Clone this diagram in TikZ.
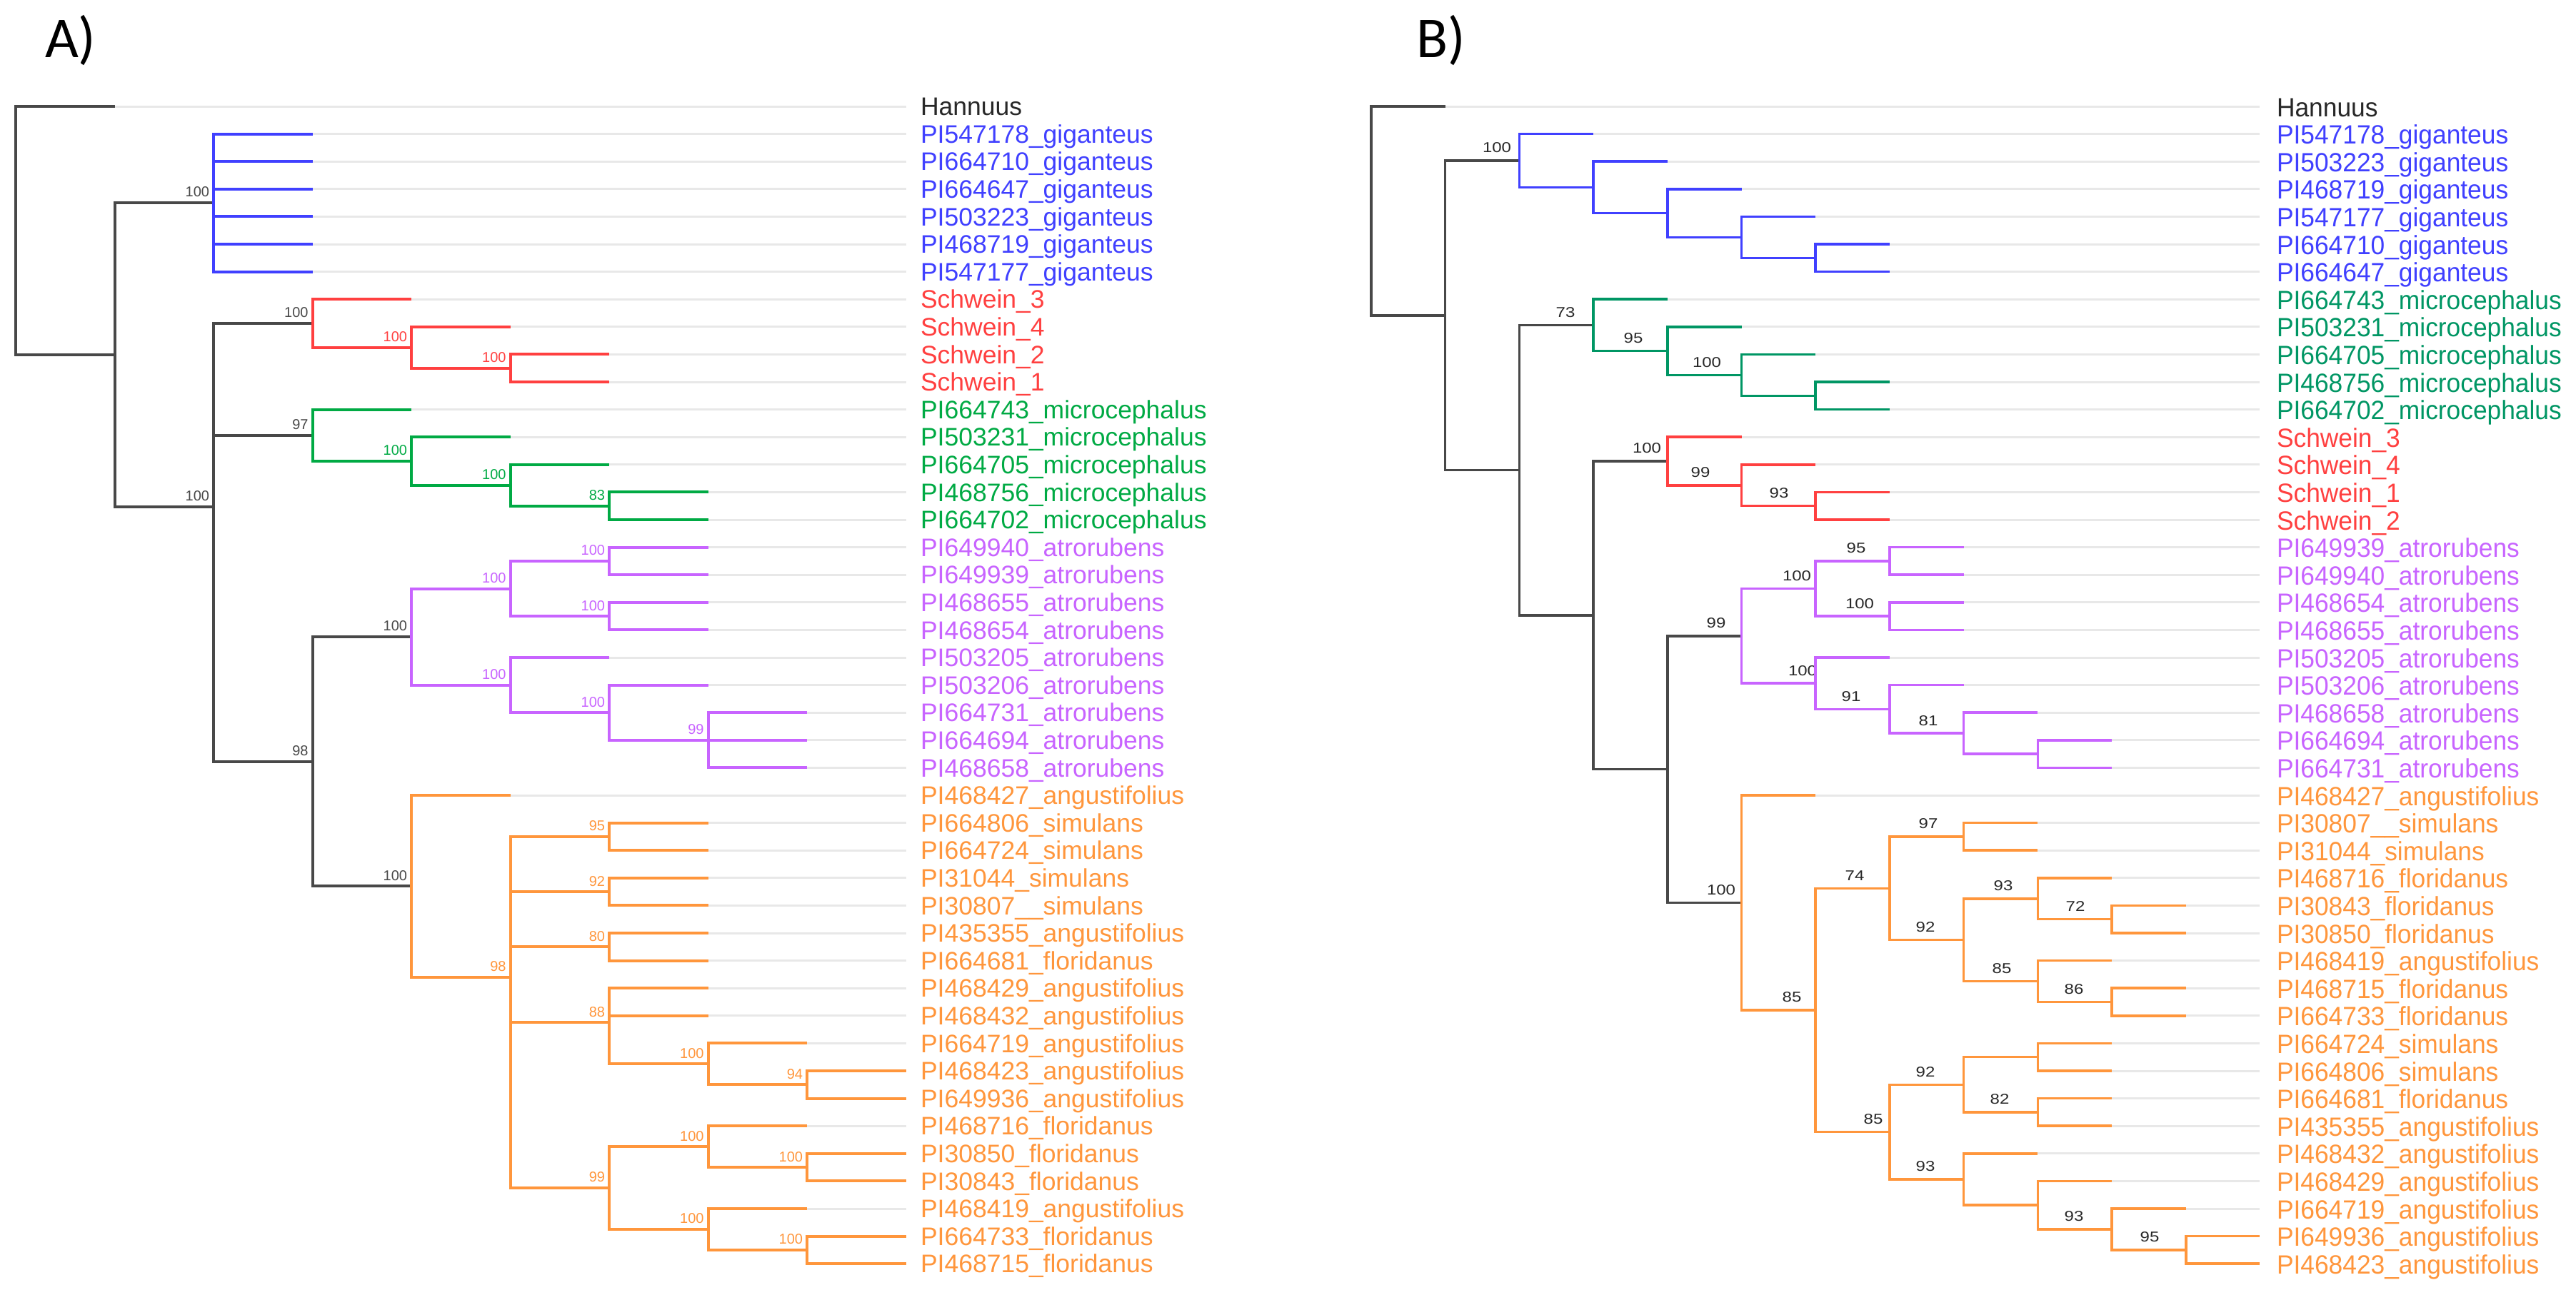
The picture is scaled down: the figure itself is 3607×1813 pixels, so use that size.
\documentclass[tikz,border=0pt]{standalone}
\usepackage{fontspec}
\setmainfont{Liberation Sans}
\newfontfamily\carl{Carlito}
\newfontfamily\bleaffont[FakeStretch=0.955]{Liberation Sans}
\newfontfamily\bnumfont[FakeStretch=1.2]{Liberation Sans}
\usetikzlibrary{calc}
\definecolor{cblk}{RGB}{72,72,72}
\definecolor{cblue}{RGB}{64,64,255}
\definecolor{cred}{RGB}{255,64,64}
\definecolor{cgrnA}{RGB}{0,170,68}
\definecolor{cgrnB}{RGB}{0,150,100}
\definecolor{cpur}{RGB}{200,100,255}
\definecolor{corg}{RGB}{255,150,60}
\definecolor{cgrey}{RGB}{232,232,232}
\definecolor{ctxt}{RGB}{40,40,40}
\tikzset{
  brA/.style={line width=0.8pt, line join=miter},
  brB/.style={line width=0.7pt, line join=miter},
  greyln/.style={draw=cgrey, line width=0.6pt},
  leaf/.style={anchor=base west, inner sep=0pt, font=\fontsize{7.1}{8}\selectfont},
  leafb/.style={anchor=base west, inner sep=0pt, font=\bleaffont\fontsize{7.4}{8.4}\selectfont},
  bsA/.style={anchor=east, inner sep=0pt, font=\fontsize{4}{5}\selectfont},
  bsB/.style={anchor=center, inner sep=0pt, font=\bnumfont\fontsize{4}{5}\selectfont, text=ctxt},
  panel/.style={anchor=base west, inner sep=0pt, font=\carl\fontsize{16.2}{18}\selectfont, text=black}
}
% tree A: level x = 22+138.5*k, row y = 149+38.6*i
\newcommand\intA[7]{%
  \coordinate (#1) at ({22+138.5*(#2)},{149+38.6*(#3)});
  \draw[brA,#5] (#4) |- (#1);
  \node[bsA,text=#7] (#1l) at ($(#1)+(-5,-15)$) {#6};}
\newcommand\intAn[5]{%
  \coordinate (#1) at ({22+138.5*(#2)},{149+38.6*(#3)});
  \draw[brA,#5] (#4) |- (#1);}
\newcommand\leafA[7]{%
  \coordinate (#1) at ({22+138.5*(#2)},{149+38.6*(#3)});
  \draw[greyln] (#1) -- (#1 -| aend);
  \draw[brA,#5] (#4) |- (#1);
  \node[leaf,text=#6] (#1t) at ({1288},{149+38.6*(#3)+12.7}) {#7};}
% tree B: level x = 1920+103.7*k
\newcommand\intB[7]{%
  \coordinate (#1) at ({1920+103.7*(#2)},{149+38.6*(#3)});
  \draw[brB,#5] (#4) |- (#1);
  \node[bsB] (#1l) at ({#7},{149+38.6*(#3)-18}) {#6};}
\newcommand\intBn[5]{%
  \coordinate (#1) at ({1920+103.7*(#2)},{149+38.6*(#3)});
  \draw[brB,#5] (#4) |- (#1);}
\newcommand\leafB[7]{%
  \coordinate (#1) at ({1920+103.7*(#2)},{149+38.6*(#3)});
  \draw[greyln] (#1) -- (#1 -| bend);
  \draw[brB,#5] (#4) |- (#1);
  \node[leafb,text=#6] (#1t) at ({3187},{149+38.6*(#3)+14}) {#7};}
\begin{document}
\begin{tikzpicture}[x=0.2pt,y=-0.2pt]
\fill[white] (0,0) rectangle (3607,1813);
\useasboundingbox (0,0) rectangle (3607,1813);
\node[panel] (pA) at (62,80) {A)};
\node[panel] (pB) at (1982,80) {B)};
\coordinate (aend) at (1268.5,0);
\coordinate (bend) at (3164.4,0);
% ================= TREE A =================
\coordinate (ar) at (22,{149+38.6*4.5075});
\leafA{a0}{1}{0}{ar}{cblk}{ctxt}{Hannuus}
\intAn{aN1}{1}{9.015}{ar}{cblk}
\intA{aG}{2}{3.5}{aN1}{cblk}{100}{cblk}
\leafA{a1}{3}{1}{aG}{cblue}{cblue}{PI547178\_giganteus}
\leafA{a2}{3}{2}{aG}{cblue}{cblue}{PI664710\_giganteus}
\leafA{a3}{3}{3}{aG}{cblue}{cblue}{PI664647\_giganteus}
\leafA{a4}{3}{4}{aG}{cblue}{cblue}{PI503223\_giganteus}
\leafA{a5}{3}{5}{aG}{cblue}{cblue}{PI468719\_giganteus}
\leafA{a6}{3}{6}{aG}{cblue}{cblue}{PI547177\_giganteus}
\intA{aN2}{2}{14.529}{aN1}{cblk}{100}{cblk}
\intA{aR}{3}{7.875}{aN2}{cblk}{100}{cblk}
\leafA{a7}{4}{7}{aR}{cred}{cred}{Schwein\_3}
\intA{aR2}{4}{8.75}{aR}{cred}{100}{cred}
\leafA{a8}{5}{8}{aR2}{cred}{cred}{Schwein\_4}
\intA{aR3}{5}{9.5}{aR2}{cred}{100}{cred}
\leafA{a9}{6}{9}{aR3}{cred}{cred}{Schwein\_2}
\leafA{a10}{6}{10}{aR3}{cred}{cred}{Schwein\_1}
\intA{aM}{3}{11.9375}{aN2}{cblk}{97}{cblk}
\leafA{a11}{4}{11}{aM}{cgrnA}{cgrnA}{PI664743\_microcephalus}
\intA{aM2}{4}{12.875}{aM}{cgrnA}{100}{cgrnA}
\leafA{a12}{5}{12}{aM2}{cgrnA}{cgrnA}{PI503231\_microcephalus}
\intA{aM3}{5}{13.75}{aM2}{cgrnA}{100}{cgrnA}
\leafA{a13}{6}{13}{aM3}{cgrnA}{cgrnA}{PI664705\_microcephalus}
\intA{aM4}{6}{14.5}{aM3}{cgrnA}{83}{cgrnA}
\leafA{a14}{7}{14}{aM4}{cgrnA}{cgrnA}{PI468756\_microcephalus}
\leafA{a15}{7}{15}{aM4}{cgrnA}{cgrnA}{PI664702\_microcephalus}
\intA{aN3}{3}{23.775}{aN2}{cblk}{98}{cblk}
\intA{aP}{4}{19.25}{aN3}{cblk}{100}{cblk}
\intA{aP1}{5}{17.5}{aP}{cpur}{100}{cpur}
\intA{aP1a}{6}{16.5}{aP1}{cpur}{100}{cpur}
\leafA{a16}{7}{16}{aP1a}{cpur}{cpur}{PI649940\_atrorubens}
\leafA{a17}{7}{17}{aP1a}{cpur}{cpur}{PI649939\_atrorubens}
\intA{aP1b}{6}{18.5}{aP1}{cpur}{100}{cpur}
\leafA{a18}{7}{18}{aP1b}{cpur}{cpur}{PI468655\_atrorubens}
\leafA{a19}{7}{19}{aP1b}{cpur}{cpur}{PI468654\_atrorubens}
\intA{aP2}{5}{21}{aP}{cpur}{100}{cpur}
\leafA{a20}{6}{20}{aP2}{cpur}{cpur}{PI503205\_atrorubens}
\intA{aPy}{6}{22}{aP2}{cpur}{100}{cpur}
\leafA{a21}{7}{21}{aPy}{cpur}{cpur}{PI503206\_atrorubens}
\intA{aPz}{7}{23}{aPy}{cpur}{99}{cpur}
\leafA{a22}{8}{22}{aPz}{cpur}{cpur}{PI664731\_atrorubens}
\leafA{a23}{8}{23}{aPz}{cpur}{cpur}{PI664694\_atrorubens}
\leafA{a24}{8}{24}{aPz}{cpur}{cpur}{PI468658\_atrorubens}
\intA{aO}{4}{28.3}{aN3}{cblk}{100}{cblk}
\leafA{a25}{5}{25}{aO}{corg}{corg}{PI468427\_angustifolius}
\intA{aO1}{5}{31.6}{aO}{corg}{98}{corg}
\intA{aOa}{6}{26.5}{aO1}{corg}{95}{corg}
\leafA{a26}{7}{26}{aOa}{corg}{corg}{PI664806\_simulans}
\leafA{a27}{7}{27}{aOa}{corg}{corg}{PI664724\_simulans}
\intA{aOb}{6}{28.5}{aO1}{corg}{92}{corg}
\leafA{a28}{7}{28}{aOb}{corg}{corg}{PI31044\_simulans}
\leafA{a29}{7}{29}{aOb}{corg}{corg}{PI30807\_\_simulans}
\intA{aOc}{6}{30.5}{aO1}{corg}{80}{corg}
\leafA{a30}{7}{30}{aOc}{corg}{corg}{PI435355\_angustifolius}
\leafA{a31}{7}{31}{aOc}{corg}{corg}{PI664681\_floridanus}
\intA{aOd}{6}{33.25}{aO1}{corg}{88}{corg}
\leafA{a32}{7}{32}{aOd}{corg}{corg}{PI468429\_angustifolius}
\leafA{a33}{7}{33}{aOd}{corg}{corg}{PI468432\_angustifolius}
\intA{aOd1}{7}{34.75}{aOd}{corg}{100}{corg}
\leafA{a34}{8}{34}{aOd1}{corg}{corg}{PI664719\_angustifolius}
\intA{aOd2}{8}{35.5}{aOd1}{corg}{94}{corg}
\leafA{a35}{9}{35}{aOd2}{corg}{corg}{PI468423\_angustifolius}
\leafA{a36}{9}{36}{aOd2}{corg}{corg}{PI649936\_angustifolius}
\intA{aOe}{6}{39.25}{aO1}{corg}{99}{corg}
\intA{aOe1}{7}{37.75}{aOe}{corg}{100}{corg}
\leafA{a37}{8}{37}{aOe1}{corg}{corg}{PI468716\_floridanus}
\intA{aOe2}{8}{38.5}{aOe1}{corg}{100}{corg}
\leafA{a38}{9}{38}{aOe2}{corg}{corg}{PI30850\_floridanus}
\leafA{a39}{9}{39}{aOe2}{corg}{corg}{PI30843\_floridanus}
\intA{aOe3}{7}{40.75}{aOe}{corg}{100}{corg}
\leafA{a40}{8}{40}{aOe3}{corg}{corg}{PI468419\_angustifolius}
\intA{aOe4}{8}{41.5}{aOe3}{corg}{100}{corg}
\leafA{a41}{9}{41}{aOe4}{corg}{corg}{PI664733\_floridanus}
\leafA{a42}{9}{42}{aOe4}{corg}{corg}{PI468715\_floridanus}
% ================= TREE B =================
\coordinate (br) at (1920,{149+38.6*3.7925});
\leafB{b0}{1}{0}{br}{cblk}{ctxt}{Hannuus}
\intBn{bN1}{1}{7.585}{br}{cblk}
\intB{bG}{2}{1.96875}{bN1}{cblk}{100}{2096}
\leafB{b1}{3}{1}{bG}{cblue}{cblue}{PI547178\_giganteus}
\intBn{bg2}{3}{2.9375}{bG}{cblue}
\leafB{b2}{4}{2}{bg2}{cblue}{cblue}{PI503223\_giganteus}
\intBn{bg3}{4}{3.875}{bg2}{cblue}
\leafB{b3}{5}{3}{bg3}{cblue}{cblue}{PI468719\_giganteus}
\intBn{bg4}{5}{4.75}{bg3}{cblue}
\leafB{b4}{6}{4}{bg4}{cblue}{cblue}{PI547177\_giganteus}
\intBn{bg5}{6}{5.5}{bg4}{cblue}
\leafB{b5}{7}{5}{bg5}{cblue}{cblue}{PI664710\_giganteus}
\leafB{b6}{7}{6}{bg5}{cblue}{cblue}{PI664647\_giganteus}
\intBn{bM}{2}{13.202}{bN1}{cblk}
\intB{bGr}{3}{7.9375}{bM}{cblk}{73}{2192}
\leafB{b7}{4}{7}{bGr}{cgrnB}{cgrnB}{PI664743\_microcephalus}
\intB{bm2}{4}{8.875}{bGr}{cgrnB}{95}{2287}
\leafB{b8}{5}{8}{bm2}{cgrnB}{cgrnB}{PI503231\_microcephalus}
\intB{bm3}{5}{9.75}{bm2}{cgrnB}{100}{2390}
\leafB{b9}{6}{9}{bm3}{cgrnB}{cgrnB}{PI664705\_microcephalus}
\intBn{bm4}{6}{10.5}{bm3}{cgrnB}
\leafB{b10}{7}{10}{bm4}{cgrnB}{cgrnB}{PI468756\_microcephalus}
\leafB{b11}{7}{11}{bm4}{cgrnB}{cgrnB}{PI664702\_microcephalus}
\intBn{bK}{3}{18.4668}{bM}{cblk}
\intB{bR}{4}{12.875}{bK}{cblk}{100}{2306}
\leafB{b12}{5}{12}{bR}{cred}{cred}{Schwein\_3}
\intB{br2}{5}{13.75}{bR}{cred}{99}{2381}
\leafB{b13}{6}{13}{br2}{cred}{cred}{Schwein\_4}
\intB{br3}{6}{14.5}{br2}{cred}{93}{2491}
\leafB{b14}{7}{14}{br3}{cred}{cred}{Schwein\_1}
\leafB{b15}{7}{15}{br3}{cred}{cred}{Schwein\_2}
\intBn{bP}{4}{24.0586}{bK}{cblk}
\intB{bPu}{5}{19.21875}{bP}{cblk}{99}{2403}
\intB{bPa}{6}{17.5}{bPu}{cpur}{100}{2516}
\intB{bpa1}{7}{16.5}{bPa}{cpur}{95}{2599}
\leafB{b16}{8}{16}{bpa1}{cpur}{cpur}{PI649939\_atrorubens}
\leafB{b17}{8}{17}{bpa1}{cpur}{cpur}{PI649940\_atrorubens}
\intB{bpa2}{7}{18.5}{bPa}{cpur}{100}{2604}
\leafB{b18}{8}{18}{bpa2}{cpur}{cpur}{PI468654\_atrorubens}
\leafB{b19}{8}{19}{bpa2}{cpur}{cpur}{PI468655\_atrorubens}
\intB{bPb}{6}{20.9375}{bPu}{cpur}{100}{2524}
\leafB{b20}{7}{20}{bPb}{cpur}{cpur}{PI503205\_atrorubens}
\intB{bpb2}{7}{21.875}{bPb}{cpur}{91}{2592}
\leafB{b21}{8}{21}{bpb2}{cpur}{cpur}{PI503206\_atrorubens}
\intB{bpb3}{8}{22.75}{bpb2}{cpur}{81}{2700}
\leafB{b22}{9}{22}{bpb3}{cpur}{cpur}{PI468658\_atrorubens}
\intBn{bpb4}{9}{23.5}{bpb3}{cpur}
\leafB{b23}{10}{23}{bpb4}{cpur}{cpur}{PI664694\_atrorubens}
\leafB{b24}{10}{24}{bpb4}{cpur}{cpur}{PI664731\_atrorubens}
\intB{bO}{5}{28.8984}{bP}{cblk}{100}{2410}
\leafB{b25}{6}{25}{bO}{corg}{corg}{PI468427\_angustifolius}
\intB{bO2}{6}{32.7969}{bO}{corg}{85}{2509}
\intB{bOa}{7}{28.375}{bO2}{corg}{74}{2597}
\intB{bOa1}{8}{26.5}{bOa}{corg}{97}{2700}
\leafB{b26}{9}{26}{bOa1}{corg}{corg}{PI30807\_\_simulans}
\leafB{b27}{9}{27}{bOa1}{corg}{corg}{PI31044\_simulans}
\intB{bOa2}{8}{30.25}{bOa}{corg}{92}{2696}
\intB{bOa3}{9}{28.75}{bOa2}{corg}{93}{2805}
\leafB{b28}{10}{28}{bOa3}{corg}{corg}{PI468716\_floridanus}
\intB{bOa4}{10}{29.5}{bOa3}{corg}{72}{2906}
\leafB{b29}{11}{29}{bOa4}{corg}{corg}{PI30843\_floridanus}
\leafB{b30}{11}{30}{bOa4}{corg}{corg}{PI30850\_floridanus}
\intB{bOa5}{9}{31.75}{bOa2}{corg}{85}{2803}
\leafB{b31}{10}{31}{bOa5}{corg}{corg}{PI468419\_angustifolius}
\intB{bOa6}{10}{32.5}{bOa5}{corg}{86}{2904}
\leafB{b32}{11}{32}{bOa6}{corg}{corg}{PI468715\_floridanus}
\leafB{b33}{11}{33}{bOa6}{corg}{corg}{PI664733\_floridanus}
\intB{bOb}{7}{37.21875}{bO2}{corg}{85}{2623}
\intB{bOb1}{8}{35.5}{bOb}{corg}{92}{2696}
\intBn{bOb2}{9}{34.5}{bOb1}{corg}
\leafB{b34}{10}{34}{bOb2}{corg}{corg}{PI664724\_simulans}
\leafB{b35}{10}{35}{bOb2}{corg}{corg}{PI664806\_simulans}
\intB{bOb3}{9}{36.5}{bOb1}{corg}{82}{2800}
\leafB{b36}{10}{36}{bOb3}{corg}{corg}{PI664681\_floridanus}
\leafB{b37}{10}{37}{bOb3}{corg}{corg}{PI435355\_angustifolius}
\intB{bOb4}{8}{38.9375}{bOb}{corg}{93}{2696}
\leafB{b38}{9}{38}{bOb4}{corg}{corg}{PI468432\_angustifolius}
\intBn{bOb5}{9}{39.875}{bOb4}{corg}
\leafB{b39}{10}{39}{bOb5}{corg}{corg}{PI468429\_angustifolius}
\intB{bOb6}{10}{40.75}{bOb5}{corg}{93}{2904}
\leafB{b40}{11}{40}{bOb6}{corg}{corg}{PI664719\_angustifolius}
\intB{bOb7}{11}{41.5}{bOb6}{corg}{95}{3010}
\leafB{b41}{12}{41}{bOb7}{corg}{corg}{PI649936\_angustifolius}
\leafB{b42}{12}{42}{bOb7}{corg}{corg}{PI468423\_angustifolius}
\end{tikzpicture}
\end{document}
